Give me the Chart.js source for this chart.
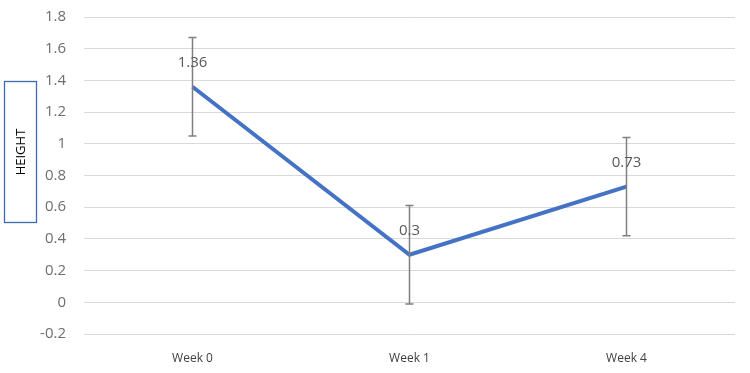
<!DOCTYPE html>
<html>
<head>
<meta charset="utf-8">
<script src="https://cdn.jsdelivr.net/npm/chart.js@4"></script>
<style>
  html, body { margin: 0; padding: 0; background: #fff; }
  #wrap { width: 750px; height: 373px; position: relative; }
</style>
</head>
<body>
<div id="wrap"><canvas id="heightChart"></canvas></div>
<script>
const weeks = ['Week 0', 'Week 1', 'Week 4'];
const heightMeans = [1.36, 0.3, 0.73];
const heightErrors = [0.31, 0.31, 0.31];
const yTicks = [-0.2, 0, 0.2, 0.4, 0.6, 0.8, 1, 1.2, 1.4, 1.6, 1.8];

// error bars + value labels, drawn through the chart's own scales
const errorBars = {
    id: 'errorBars',
    afterDatasetsDraw(chart) {
        const { ctx, scales: { x, y } } = chart;
        ctx.save();
        ctx.strokeStyle = '#808080';
        ctx.lineWidth = 1.5;
        heightMeans.forEach((v, i) => {
            const px = x.getPixelForValue(i);
            const top = y.getPixelForValue(v + heightErrors[i]);
            const bot = y.getPixelForValue(v - heightErrors[i]);
            ctx.beginPath();
            ctx.moveTo(px, top); ctx.lineTo(px, bot);
            ctx.moveTo(px - 4, top); ctx.lineTo(px + 4, top);
            ctx.moveTo(px - 4, bot); ctx.lineTo(px + 4, bot);
            ctx.stroke();
        });
        ctx.fillStyle = '#595959';
        ctx.font = '15px "Open Sans"';
        ctx.textAlign = 'center';
        ctx.textBaseline = 'middle';
        heightMeans.forEach((v, i) => {
            const px = x.getPixelForValue(i);
            const py = y.getPixelForValue(v);
            ctx.fillText(String(v), px, py - 24);
        });
        ctx.restore();
    }
};

// boxed, rotated axis title on the left
const boxedTitle = {
    id: 'boxedTitle',
    afterDraw(chart) {
        const { ctx } = chart;
        ctx.save();
        ctx.strokeStyle = '#3d6bb0';
        ctx.lineWidth = 1.3;
        ctx.strokeRect(4.5, 81.5, 32, 141);
        ctx.translate(21, 152);
        ctx.rotate(-Math.PI / 2);
        ctx.fillStyle = '#000';
        ctx.font = '13px "Open Sans"';
        ctx.textAlign = 'center';
        ctx.textBaseline = 'middle';
        ctx.fillText('HEIGHT', 0, 0);
        ctx.restore();
    }
};

new Chart(document.getElementById('heightChart'), {
    type: 'line',
    data: {
        labels: weeks,
        datasets: [{
            data: heightMeans,
            borderColor: '#4472C4',
            borderWidth: 4,
            pointRadius: 0,
            tension: 0,
        }]
    },
    options: {
        responsive: true,
        maintainAspectRatio: false,
        animation: false,
        layout: { padding: { top: 17, right: 15, left: 0, bottom: 0 } },
        scales: {
            x: {
                offset: true,
                grid: { display: false },
                border: { display: false },
                ticks: { color: '#404040', font: { family: 'Open Sans', size: 12 }, padding: 9 },
                afterFit: s => { s.height = 39; s.paddingLeft = 0; s.paddingRight = 0; }
            },
            y: {
                min: -0.2,
                max: 1.8,
                afterBuildTicks: s => { s.ticks = yTicks.map(v => ({ value: v })); },
                grid: { color: '#d9d9d9', lineWidth: 1, drawTicks: false },
                border: { display: false },
                ticks: {
                    color: '#6e6e6e',
                    font: { family: 'Open Sans', size: 15 },
                    padding: 18,
                    callback: v => String(Math.round(v * 10) / 10)
                },
                afterFit: s => { s.width = 84; s.paddingTop = 0; s.paddingBottom = 0; }
            }
        },
        plugins: {
            legend: { display: false },
            tooltip: { enabled: false }
        }
    },
    plugins: [errorBars, boxedTitle]
});
</script>
</body>
</html>
